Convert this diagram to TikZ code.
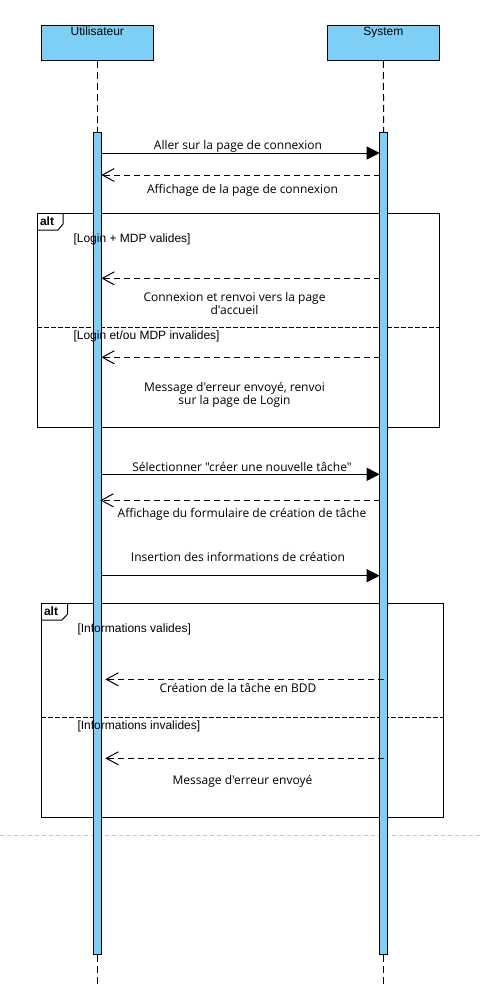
\documentclass[tikz,border=0pt]{standalone}
\usepackage{fontspec}
\setmainfont{Open Sans}[Ligatures=TeXOff]
\newfontfamily\arialfont{Liberation Sans}
\usetikzlibrary{arrows.meta}
\definecolor{seqB}{RGB}{126,207,245}
\definecolor{pageG}{RGB}{200,200,200}
\tikzset{
  headbox/.style={draw, fill=seqB, minimum width=112pt, minimum height=35pt, inner sep=0pt},
  headtxt/.style={font=\arialfont\fontsize{12}{14}\selectfont, anchor=north, inner sep=1.5pt},
  actbar/.style={draw, fill=seqB, minimum width=8pt, minimum height=821.6pt, inner sep=0pt},
  lifeline/.style={dash pattern=on 7pt off 4pt},
  call/.style={-{Triangle[length=13pt,width=13pt]}},
  reply/.style={dash pattern=on 6pt off 4pt, -{Straight Barb[length=12pt,width=13pt]}},
  msg/.style={font=\fontsize{12}{13.5}\selectfont, align=center, inner sep=0pt},
  guard/.style={font=\arialfont\fontsize{12}{14}\selectfont, anchor=west, inner sep=0pt},
  alttxt/.style={font=\arialfont\bfseries\fontsize{12}{14}\selectfont, anchor=west, inner sep=0pt}
}

\begin{document}
\begin{tikzpicture}[x=1pt, y=-1pt, line width=1pt]
\useasboundingbox (0,0) rectangle (480,1007);
% ===== page boundary guide =====
\draw[pageG, line width=0.8pt, dash pattern=on 4pt off 3pt] (0,835.3) -- (480,835.3);
% ===== first alt frame: login check =====
\draw (37.3,213.3) rectangle (439.3,427.7);
\draw (37.3,230) -- (58,230) -- (63,224) -- (63,213.3);
\node[alttxt] (alt1) at (39.5,221.5) {alt};
\draw[dash pattern=on 5pt off 2pt] (37.3,327.3) -- (439.3,327.3);
% ===== second alt frame: task creation =====
\draw (41.3,603.3) rectangle (443.3,817.7);
\draw (41.3,620) -- (62,620) -- (67.7,614) -- (67.7,603.3);
\node[alttxt] (alt2) at (43.5,611.5) {alt};
\draw[dash pattern=on 5pt off 2pt] (41.3,717.3) -- (443.3,717.3);
% ===== lifelines with heads and activation bars =====
\node[headbox, label={[headtxt]north:Utilisateur}] (user) at (97.3,42.8) {};
\node[headbox, label={[headtxt]north:System}] (sys) at (383.3,42.8) {};
\coordinate (uend) at (97.3,985);
\coordinate (send) at (383.7,985);
\draw[lifeline] (user.south) -- (97.3,132.7);
\draw[lifeline] (sys.south) -- (383.7,132.7);
\node[actbar] (ubar) at (97.3,543.5) {};
\node[actbar] (sbar) at (383.7,543.5) {};
\draw[lifeline] (ubar.south) -- (uend);
\draw[lifeline] (sbar.south) -- (send);
% message ends on the bars
\foreach \n/\xu/\xs/\y in {1/101.3/379.7/153, 2/101.3/379.7/175, 3/101.3/379.7/278.3,
  4/101.3/379.7/357.3, 5/101.3/379.7/474.3, 6/100.3/379.7/500.3, 7/101.3/379.7/575.7,
  8/105.3/384.3/679.3, 9/105.3/384.3/758.3}{
  \coordinate (u\n) at (\xu,\y);
  \coordinate (s\n) at (\xs,\y);
}
% ===== messages =====
\draw[call] (u1) -- (s1);
\node[msg] (l1) at (238,146) {Aller sur la page de connexion};
\draw[reply] (s2) -- (u2);
\node[msg] (l2) at (242.5,190) {Affichage de la page de connexion};
\node[guard] (g1) at (73,239.5) {[Login + MDP valides]};
\draw[reply] (s3) -- (u3);
\node[msg] (l3) at (234.5,303.5) {Connexion et renvoi vers la page\\d'accueil};
\node[guard] (g2) at (73,336.5) {[Login et/ou MDP invalides]};
\draw[reply] (s4) -- (u4);
\node[msg] (l4) at (234.5,395) {Message d'erreur envoyé, renvoi\\sur la page de Login};
\draw[call] (u5) -- (s5);
\node[msg] (l5) at (242,466.5) {Sélectionner "créer une nouvelle tâche"};
\draw[reply] (s6) -- (u6);
\node[msg] (l6) at (242,514) {Affichage du formulaire de création de tâche};
\draw[call] (u7) -- (s7);
\node[msg] (l7) at (238,557) {Insertion des informations de création};
\node[guard] (g3) at (77,629.5) {[Informations valides]};
\draw[reply] (s8) -- (u8);
\node[msg] (l8) at (238,687.5) {Création de la tâche en BDD};
\node[guard] (g4) at (77,726.5) {[Informations invalides]};
\draw[reply] (s9) -- (u9);
\node[msg] (l9) at (242.5,781) {Message d'erreur envoyé};
\end{tikzpicture}
\end{document}
